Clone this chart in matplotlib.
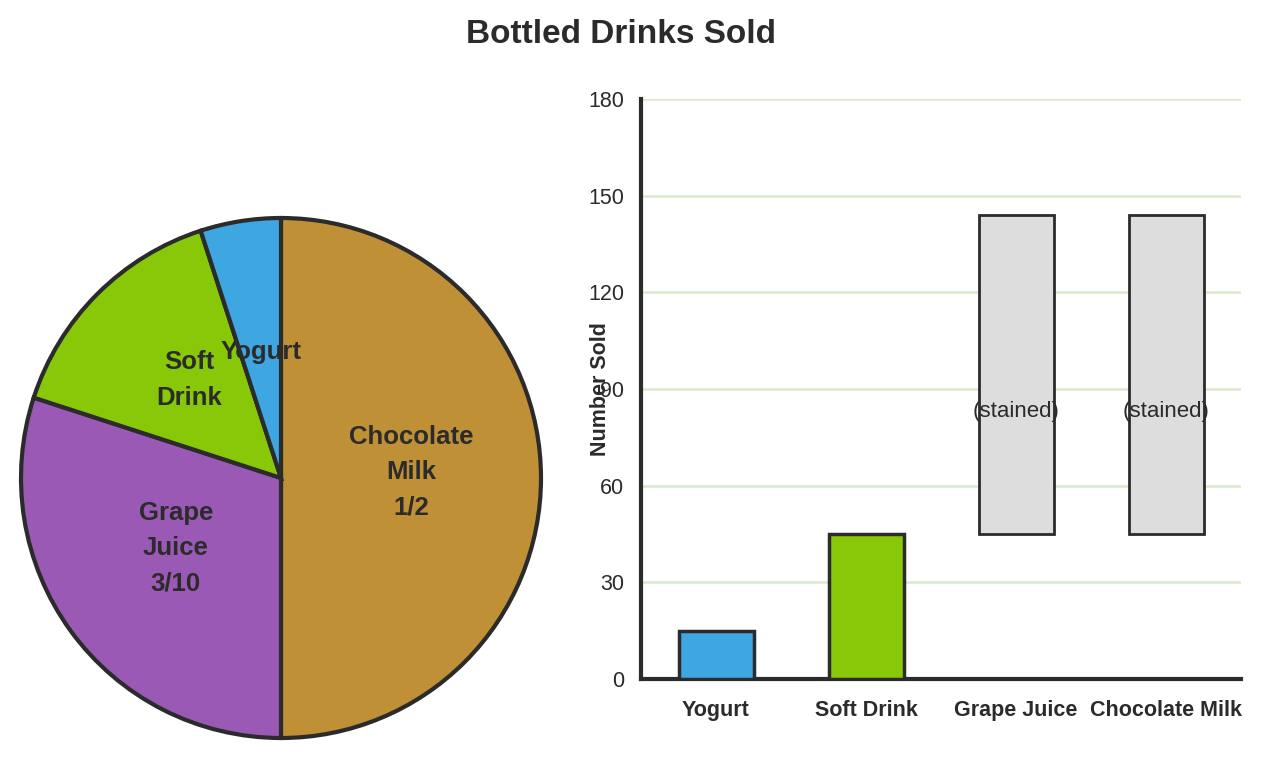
import matplotlib
matplotlib.use("Agg")
import matplotlib.pyplot as plt
import matplotlib.transforms as mtransforms
import numpy as np

plt.rcParams['font.family'] = ['Liberation Sans', 'DejaVu Sans']

categories = ["Yogurt", "Soft Drink", "Grape Juice", "Chocolate Milk"]
sold = [15, 45, None, None]
stained_low = [None, None, 45, 45]
stained_high = [None, None, 144, 144]
stained_text_val = 83

pie_order = ["Chocolate Milk", "Grape Juice", "Soft Drink", "Yogurt"]
pie_values = [150, 90, 45, 15]
pie_labels = ["Chocolate\nMilk\n1/2", "Grape\nJuice\n3/10", "Soft\nDrink", "Yogurt"]

colors = {"Yogurt": "#3ea6e0", "Soft Drink": "#88c808",
          "Grape Juice": "#9b59b6", "Chocolate Milk": "#c09036"}
dark = "#2b2b2b"

fig = plt.figure(figsize=(12.62, 7.60), dpi=100)
fig.text(0.492, 0.955, "Bottled Drinks Sold", ha="center", va="center",
         fontsize=24, fontweight="bold", color=dark)

# Pie
lim = 1.02
half = 260 * lim
axp = fig.add_axes([(281 - half) / 1262, (760 - 478 - half) / 760,
                    2 * half / 1262, 2 * half / 760])
wedges, _ = axp.pie(pie_values, colors=[colors[c] for c in pie_order],
                    startangle=90, counterclock=False,
                    wedgeprops=dict(edgecolor=dark, linewidth=3))
axp.set_xlim(-lim, lim)
axp.set_ylim(-lim, lim)
axp.set_aspect("equal")
axp.axis("off")
for w, lab in zip(wedges, pie_labels):
    ang = np.deg2rad((w.theta1 + w.theta2) / 2)
    dy = 6 if "\n" in lab else -2
    tr = mtransforms.offset_copy(axp.transData, fig=fig, x=0, y=dy, units="dots")
    axp.text(0.5 * np.cos(ang), 0.5 * np.sin(ang), lab, ha="center", va="center",
             fontsize=18.5, fontweight="bold", color=dark, linespacing=1.6,
             transform=tr)

# Bars
axb = fig.add_axes([641 / 1262, 81 / 760, 600 / 1262, 580 / 760])
x = np.arange(len(categories))
for i, c in enumerate(categories):
    if sold[i] is not None:
        axb.bar(i, sold[i], width=0.5, color=colors[c], edgecolor=dark,
                linewidth=2.5, zorder=3)
    else:
        axb.bar(i, stained_high[i] - stained_low[i], bottom=stained_low[i],
                width=0.5, color="#dddddd", edgecolor=dark, linewidth=2, zorder=3)
        axb.text(i, stained_text_val, "(stained)", ha="center", va="center",
                 fontsize=16, color=dark, zorder=4)
axb.set_xlim(-0.5, 3.5)
axb.set_ylim(0, 180)
axb.set_yticks(np.arange(0, 181, 30))
axb.set_xticks(x)
axb.set_xticklabels(categories, fontweight="bold", fontsize=15.5, color=dark)
axb.tick_params(axis="x", length=0, pad=15)
axb.tick_params(axis="y", length=0, pad=12, labelsize=15.5, labelcolor=dark)
axb.grid(axis="y", color="#d9e8cf", linewidth=1.8, zorder=0)
for s in ["top", "right"]:
    axb.spines[s].set_visible(False)
axb.spines["left"].set_linewidth(3)
axb.spines["bottom"].set_linewidth(3)
axb.spines["left"].set_color(dark)
axb.spines["bottom"].set_color(dark)
axb.set_ylabel("Number Sold", fontweight="bold", fontsize=15.5, color=dark)
axb.yaxis.set_label_coords(-0.05, 0.5)

fig.savefig("out.png", dpi=100)
